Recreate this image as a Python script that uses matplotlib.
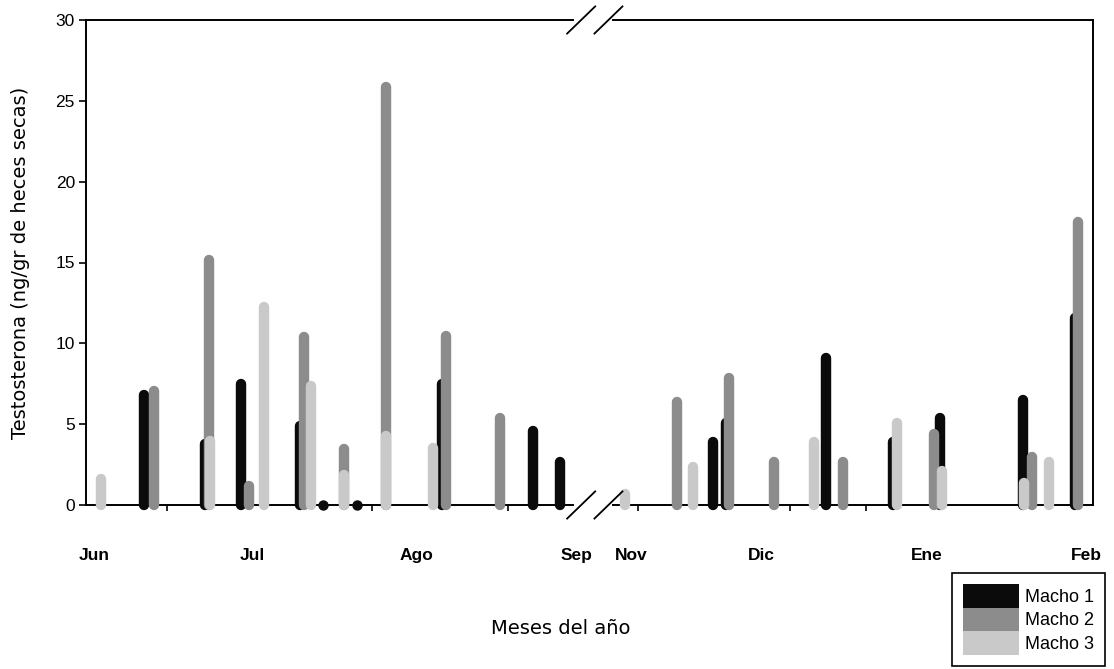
import numpy as np
import matplotlib
matplotlib.use("Agg")
import matplotlib.pyplot as plt
from matplotlib.patches import Patch
from matplotlib.transforms import blended_transform_factory

# x positions are days on a compressed axis (0 = Jun label, gap Sep->Nov cut out)
month_labels = ["Jun", "Jul", "Ago", "Sep", "Nov", "Dic", "Ene", "Feb"]
month_pos = [0, 30.1, 61.5, 92, 102.4, 127.2, 158.7, 189.1]
minor_pos = [13.9, 52.9, 78.9, 103.6, 132.6, 147.0]

macho1_x = [9.5, 21.1, 28.0, 39.2, 43.6, 50.1, 66.3, 83.6, 88.8,
            117.9, 120.4, 139.4, 152.2, 161.1, 177.0, 186.9]
macho1_y = [7.1, 4.1, 7.8, 5.2, 0.35, 0.35, 7.8, 4.9, 3.0,
            4.2, 5.4, 9.4, 4.2, 5.7, 6.8, 11.9]

macho2_x = [11.4, 21.9, 29.5, 40.0, 47.6, 55.6, 67.0, 77.3,
            111.0, 121.0, 129.5, 142.7, 160.0, 178.7, 187.4]
macho2_y = [7.4, 15.5, 1.5, 10.7, 3.8, 26.2, 10.8, 5.7,
            6.7, 8.2, 3.0, 3.0, 4.7, 3.3, 17.8]

macho3_x = [1.3, 22.1, 32.4, 41.3, 47.6, 55.6, 64.6,
            101.1, 114.1, 137.1, 153.0, 161.5, 177.1, 181.9]
macho3_y = [1.9, 4.3, 12.6, 7.7, 2.2, 4.6, 3.85,
            1.0, 2.7, 4.2, 5.4, 2.4, 1.7, 3.0]

series = [
    ("Macho 1", macho1_x, macho1_y, "#0b0b0b"),
    ("Macho 2", macho2_x, macho2_y, "#8c8c8c"),
    ("Macho 3", macho3_x, macho3_y, "#c9c9c9"),
]

W, H = 1114, 669
fig = plt.figure(figsize=(W / 100, H / 100), dpi=100)
ax = fig.add_axes([86 / W, 1 - 505 / H, (1093 - 86) / W, 485 / H])

xmin, xmax = -1.52, 190.3
ymax = 30
ax.set_xlim(xmin, xmax)
ax.set_ylim(0, ymax)

# thin rounded columns, drawn as round-capped vertical lines
lw = 7.5
cap = (lw / 72 * 100 / 2) / (485 / ymax)
for i, (name, xs, ys, col) in enumerate(series):
    xs = np.array(xs)
    ys = np.array(ys)
    tall = ys > 2 * cap
    ax.vlines(xs[tall], 0, ys[tall] - cap, colors=col, lw=lw,
              capstyle="round", zorder=3 + i, clip_on=False)
    if (~tall).any():
        # near-zero samples show up as a round dot on the axis
        ax.scatter(xs[~tall], ys[~tall] - cap, s=lw ** 2, color=col,
                   marker="o", linewidths=0, zorder=3 + i, clip_on=False)

# axes frame with the break between Sep and Nov
for s in ["top", "bottom"]:
    ax.spines[s].set_visible(False)
for s in ["left", "right"]:
    ax.spines[s].set_linewidth(1.4)

trans = blended_transform_factory(ax.transData, ax.transAxes)
gap_l, gap_r = 91.2, 98.9
for yy in (0, 1):
    ax.plot([xmin, gap_l], [yy, yy], color="k", lw=1.4, transform=trans, clip_on=False, zorder=2)
    ax.plot([gap_r, xmax], [yy, yy], color="k", lw=1.4, transform=trans, clip_on=False, zorder=2)
    for xc in (92.8, 98.0):
        ax.plot([xc - 2.67, xc + 2.67], [yy - 0.028, yy + 0.028], color="k", lw=1.3,
                transform=trans, clip_on=False, zorder=6)

ax.set_yticks(range(0, 31, 5))
ax.tick_params(axis="y", direction="out", length=5, width=1.2, pad=3, labelsize=12.5)
for t in ax.get_yticklabels():
    t.set_fontfamily("Liberation Sans")

ax.set_xticks(month_pos)
ax.set_xticklabels(month_labels, fontfamily="Liberation Sans", fontweight="bold")
ax.set_xticks(minor_pos, minor=True)
ax.tick_params(axis="x", which="major", length=0, pad=31, labelsize=12.5)
ax.tick_params(axis="x", which="minor", direction="out", length=4, width=1.2)

ax.set_ylabel("Testosterona (ng/gr de heces secas)", fontsize=14, va="center")
ax.yaxis.set_label_coords(-0.0655, 0.5)
ax.set_xlabel("Meses del año", fontsize=14, va="center")
ax.xaxis.set_label_coords(0.4717, -0.254)

handles = [Patch(facecolor=c, edgecolor="none", label=n) for n, _, _, c in series]
leg = fig.legend(handles=handles, loc="upper right", bbox_to_anchor=(1105 / W, 1 - 573 / H),
                 borderaxespad=0, fancybox=False, edgecolor="k", framealpha=1, borderpad=0.6,
                 handlelength=3.1, handleheight=1.65, labelspacing=0.0, handletextpad=0.35,
                 prop={"family": "Liberation Sans", "size": 13})
leg.get_frame().set_linewidth(1.2)

fig.savefig("out.png", dpi=100)
